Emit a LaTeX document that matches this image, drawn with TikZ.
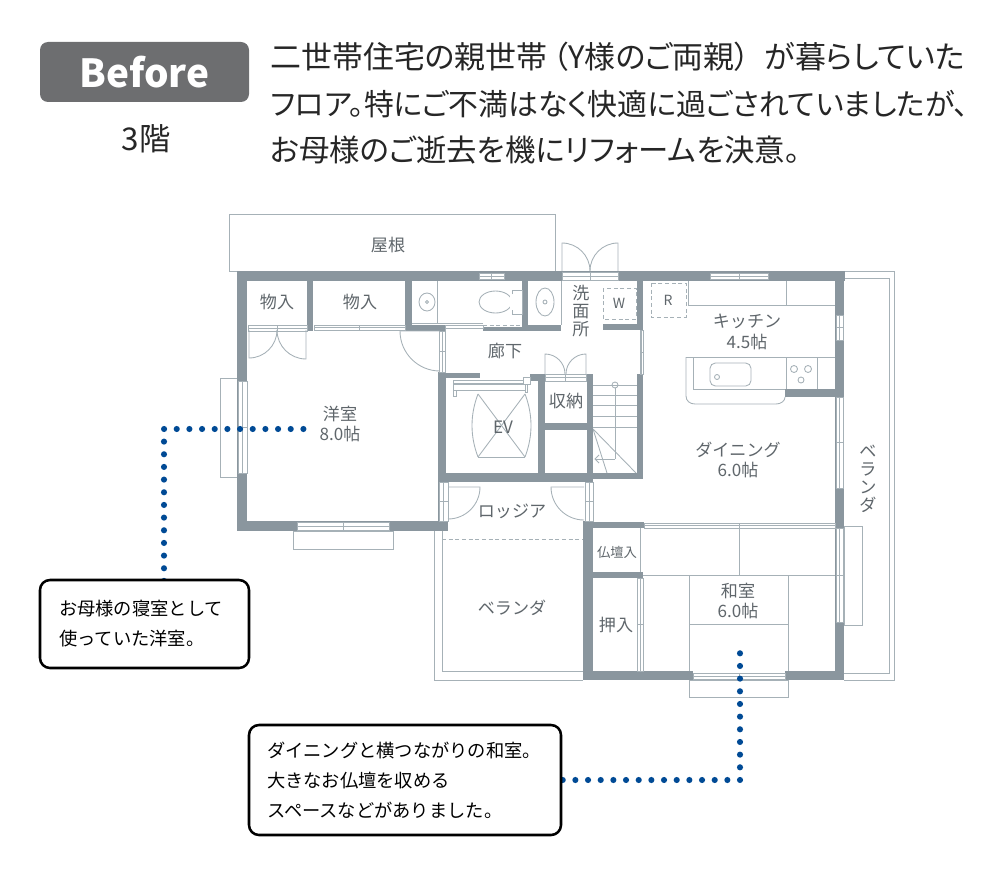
\documentclass[tikz,border=0pt]{standalone}
\usepackage{fontspec}
\setmainfont{Noto Sans CJK JP}
\newfontfamily\headfont[RawFeature=+palt]{Noto Sans CJK JP}
\usetikzlibrary{positioning,arrows.meta}
\pgfdeclarelayer{top}
\pgfsetlayers{main,top}
\definecolor{wallgray}{HTML}{8A969E}
\definecolor{linegray}{HTML}{A6B1B7}
\definecolor{labelgray}{HTML}{5F666B}
\definecolor{badgegray}{HTML}{6D6E70}
\definecolor{dotblue}{HTML}{004A95}
\tikzset{
	wall/.style={fill=wallgray},
	planline/.style={draw=linegray,line width=0.65pt},
	winbox/.style={planline,fill=white},
	roomlabel/.style={text=labelgray,align=center,inner sep=0pt,font=\fontsize{12.8}{15.4}\selectfont},
	stacklabel/.style={roomlabel,font=\fontsize{12.8}{13.6}\selectfont},
	headline/.style={anchor=west,inner sep=0pt,text=black!85},
	callout/.style={draw=black,line width=1.9pt,rounded corners=7.5pt,align=left,inner ysep=0pt,font=\fontsize{13.7}{22.5}\selectfont},
	dotline/.style={dotblue,line width=4.6pt,line cap=round,dash pattern=on 0pt off 9.5pt}
}
\begin{document}
\begin{tikzpicture}[x=0.75pt,y=-0.75pt]
	\useasboundingbox (0,0) rectangle (984,870);

	\node[fill=badgegray,rounded corners=6pt,minimum width=156.75pt,minimum height=45pt,inner sep=0pt,text=white,font=\bfseries\fontsize{29}{30}\selectfont](badge) at (144.5,72){Before};
	\node[inner sep=0pt,text=black!85,font=\fontsize{23.5}{26}\selectfont](floor) at (146,139){3階};
	\foreach \y/\s/\t [count=\n] in {57/23.2/二世帯住宅の親世帯\hspace{4pt}（Y様のご両親）\hspace{11pt}が暮らしていた,104/22.4/フロア。特にご不満はなく快適に過ごされていましたが、,150/22.8/お母様のご逝去を機にリフォームを決意。}
		\node[headline,font=\headfont\fontsize{\s}{26}\selectfont](H\n) at (270,\y){\t};

	\foreach \xa/\ya/\xb/\yb in {229/214/555/271,220/378/237/477,689/680/788/697,844/526/862/625,293/531/393/549}
		\draw[winbox] (\xa,\ya) rectangle (\xb,\yb);

	\draw[planline] (434,531) -- (434,680) -- (583,680);
	\draw[planline] (442,531) -- (442,671) -- (583,671);
	\draw[planline,densely dashed,line width=0.5pt] (442,539) -- (583,539);
	\draw[planline] (844,271) -- (894,271) -- (894,680) -- (844,680);
	\draw[planline] (844,278) -- (889,278) -- (889,673) -- (844,673);

	\foreach \xa/\ya/\xb/\yb in {437/281/437/323,412/323/483/323,445/328/445/373,561/281/561/325,
		688/281/688/305,688/305/835/305,786/281/786/305,
		693/357/835/357,693/357/693/389,693/389/785/389,786/357/786/389,817/357/817/389,686/357/693/357,
		640/528/640/572,643/575/835/575,739/528/739/575,689/575/689/671,788/575/788/671,689/624/788/624,
		593/385/637/385,593/395/637/395,593/405/637/405,593/416/637/416,593/427/637/427,
		615/388/615/459,615/459/595/459,593/429/636/473,593/429/607/473,
		478/457/525/457,478/394/525/457,525/394/478/457}
		\draw[planline] (\xa,\ya) -- (\xb,\yb);

	\draw[planline] (599,455) -- (595,459) -- (599,463);
	\draw[planline] (478,394) .. controls (470,415) and (470,436) .. (478,457);
	\draw[planline] (525,394) .. controls (533,415) and (533,436) .. (525,457);
	\draw[planline] (686,357) -- (686,396) .. controls (686,401) and (690,404) .. (695,404) -- (776,404) .. controls (781,404) and (785,401) .. (785,397);
	\draw[planline,rounded corners=4pt] (710,363) rectangle (751,386);

	\foreach \xa/\ya/\xb/\yb in {237/271/845/281,237/271/247/531,237/521/448/531,307/281/313/331,405/281/412/331,412/325/445/331,
		438/372/446/531,438/373/480/378,483/327/522/331,522/281/528/331,528/325/561/331,603/324/637/330,637/281/643/330,
		530/374/545/381,538/374/545/473,587/374/593/482,545/423/587/430,438/473/593/482,637/374/643/479,593/473/643/479,
		583/522/644/528,583/521/593/680,593/572/643/578,583/671/693/680,785/671/844/680,835/271/844/680,785/389/835/397}
		\fill[wall] (\xa,\ya) rectangle (\xb,\yb);

	\foreach \xa/\ya/\xb/\yb in {297/522/389/530,710/273/768/279,479/273/504/279,562/272/618/280,693/673/785/679,545/374/586/381,248/325/307/331,314/325/405/330,644/523/835/528}{
		\draw[winbox] (\xa,\ya) rectangle (\xb,\yb);
		\draw[planline] (\xa,{(\ya+\yb)/2}) -- (\xb,{(\ya+\yb)/2});
		\draw[planline] ({(\xa+\xb)/2},\ya) -- ({(\xa+\xb)/2},\yb);
	}
	\foreach \xa/\ya/\xb/\yb in {238/381/247/473,836/315/843/340,836/397/843/488,836/528/843/622,439/331/445/372,439/482/448/521,585/482/593/521,637/578/643/671,640/330/643/374}{
		\draw[winbox] (\xa,\ya) rectangle (\xb,\yb);
		\draw[planline] ({(\xa+\xb)/2},\ya) -- ({(\xa+\xb)/2},\yb);
		\draw[planline] (\xa,{(\ya+\yb)/2}) -- (\xb,{(\ya+\yb)/2});
	}
	\draw[winbox] (445,325) rectangle (483,328);
	\draw[planline,densely dashed,line width=0.5pt] (483,325) -- (522,325);

	\foreach \cx/\cy/\a/\b/\r in {249/330/90/0/28,306/330/90/180/29,440/331/180/90/40,448/487/0/90/32,584/487/180/90/33,562/271/-90/0/28,618/271/-90/-180/28,545/374/-90/0/20,586/374/-90/-180/20}
		\draw[planline] (\cx,\cy) -- ++(\a:\r) arc[start angle=\a,end angle=\b,radius=\r];

	\foreach \cx/\cy/\rx/\ry in {427/302/8/9,427/302/1.5/1.5,545/302/9/14,545/302/2/2,717/377/2.5/2.5,794/369/3.5/3.5,808/369/3.5/3.5,801/380/3/3,615/385/3/3}
		\draw[planline] (\cx,\cy) ellipse[x radius=\rx,y radius=\ry];
	\draw[planline] (495.5,302) ellipse[x radius=16.5,y radius=11];
	\draw[winbox,draw=none] (510,293) rectangle (514,311);
	\draw[planline] (512,294) -- (512,290) -- (522,290) -- (522,314) -- (512,314) -- (512,310);

	\foreach \xa/\ya/\xb/\yb in {651/283/686/317,603/288/636/319}
		\draw[planline,densely dashed,line width=0.5pt] (\xa,\ya) rectangle (\xb,\yb);

	\foreach \xa/\ya/\xb/\yb in {453/380/523/383,453/384/525/390,453/390/456/396,523/377/530/384,525/384/527/392}
		\draw[winbox,line width=0.5pt] (\xa,\ya) rectangle (\xb,\yb);

	\foreach \x/\y/\t [count=\n] in {388/245/屋根,277/302/物入,360/302/物入,505/351/廊下,340/424/洋室\\8.0帖,566/401/収納,503/427/EV,747/332/キッチン\\4.5帖,738/460/ダイニング\\6.0帖,512/511/ロッジア,512/608/ベランダ,616/625/押入,738/601/和室\\6.0帖}
		\node[roomlabel](R\n) at (\x,\y){\t};
	\node[stacklabel](S1) at (581,311){洗\\面\\所};
	\node[stacklabel](S2) at (868,479){ベ\\ラ\\ン\\ダ};
	\node[roomlabel,font=\fontsize{10}{12}\selectfont](S3) at (617,552){仏壇入};
	\node[roomlabel,font=\fontsize{10.5}{12}\selectfont](S4) at (668,300){R};
	\node[roomlabel,font=\fontsize{10.5}{12}\selectfont](S5) at (619,303){W};

	\begin{pgfonlayer}{top}
		\node[callout,fill=white,minimum width=156.75pt,minimum height=66pt,text width=128pt,inner xsep=14.25pt](box1) at (144.5,624){お母様の寝室として\\使っていた洋室。};
		\node[callout,fill=white,minimum width=234pt,minimum height=82.5pt,text width=207pt,inner xsep=13.5pt](box2) at (405,780){ダイニングと横つながりの和室。\\大きなお仏壇を収める\\スペースなどがありました。};
	\end{pgfonlayer}

	\coordinate (start1) at (303.4,429);
	\coordinate (turn1) at (164,429);
	\coordinate (start2) at (740,653.3);
	\coordinate (turn2) at (740,780);
	\draw[dotline] (start1) -- (turn1) -- (turn1 |- box1.center);
	\draw[dotline] (start2) -- (turn2) -- (box2.center |- turn2);
\end{tikzpicture}
\end{document}
